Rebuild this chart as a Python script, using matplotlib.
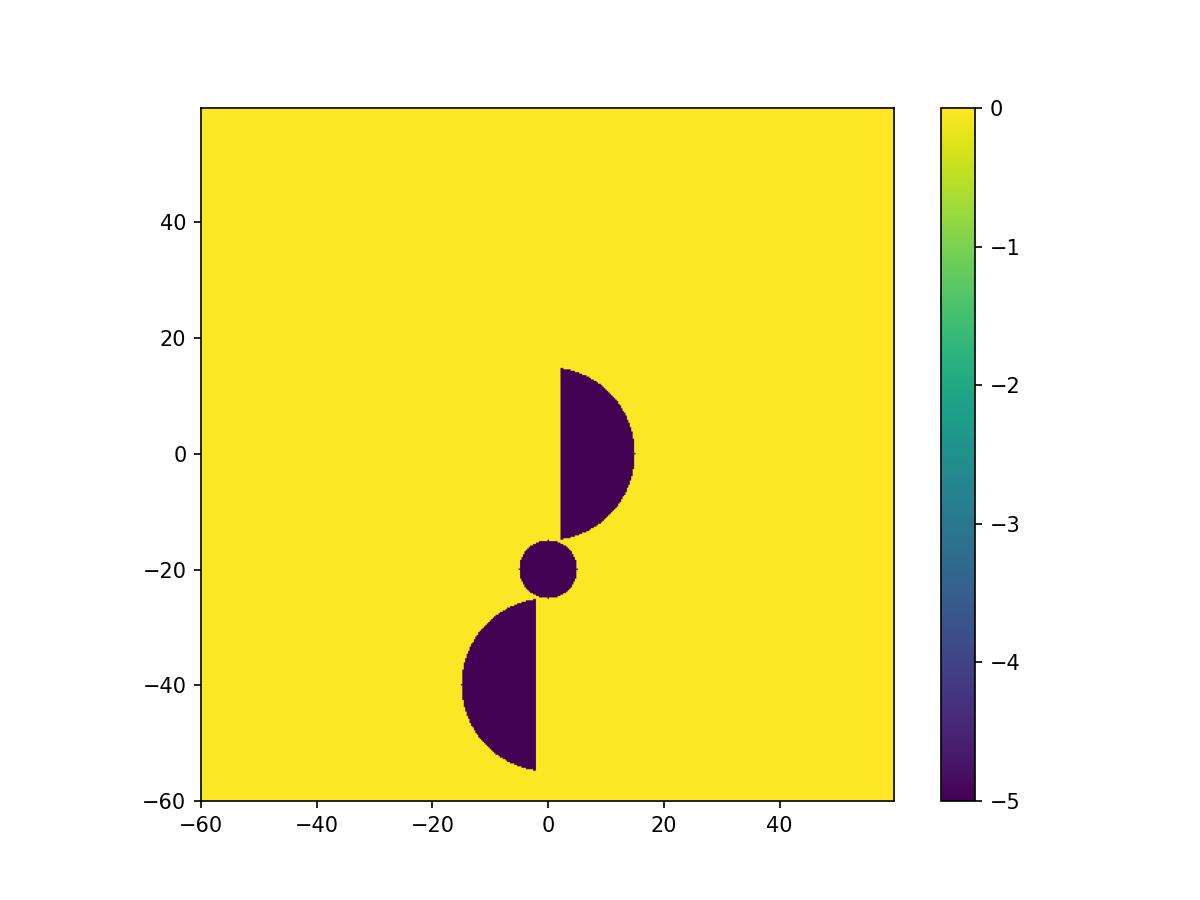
import numpy as np
import matplotlib
matplotlib.use('Agg')
import matplotlib.pyplot as plt

# grid
x = np.arange(-60, 60, 0.25)
y = np.arange(-60, 60, 0.25)

# shapes: circle centres, radii, cut (+1 keep x>cut, -1 keep x<cut, 0 full circle)
centers_x = [0, 0, 0]
centers_y = [0, -20, -40]
radii = [15, 5, 15]
cut_x = [2, 0, -2]
cut_side = [1, 0, -1]
inside_value = -5
outside_value = 0

X, Y = np.meshgrid(x, y)
Z = np.full(X.shape, outside_value, dtype=float)
for cx, cy, r, c, s in zip(centers_x, centers_y, radii, cut_x, cut_side):
    mask = (X - cx)**2 + (Y - cy)**2 <= r**2
    if s > 0:
        mask &= X > c
    elif s < 0:
        mask &= X < c
    Z[mask] = inside_value

fig = plt.figure(figsize=(8, 6), dpi=150)
plt.imshow(Z, origin='lower', extent=[x.min(), x.max(), y.min(), y.max()], cmap='viridis')
plt.colorbar()
plt.savefig('out.png')
